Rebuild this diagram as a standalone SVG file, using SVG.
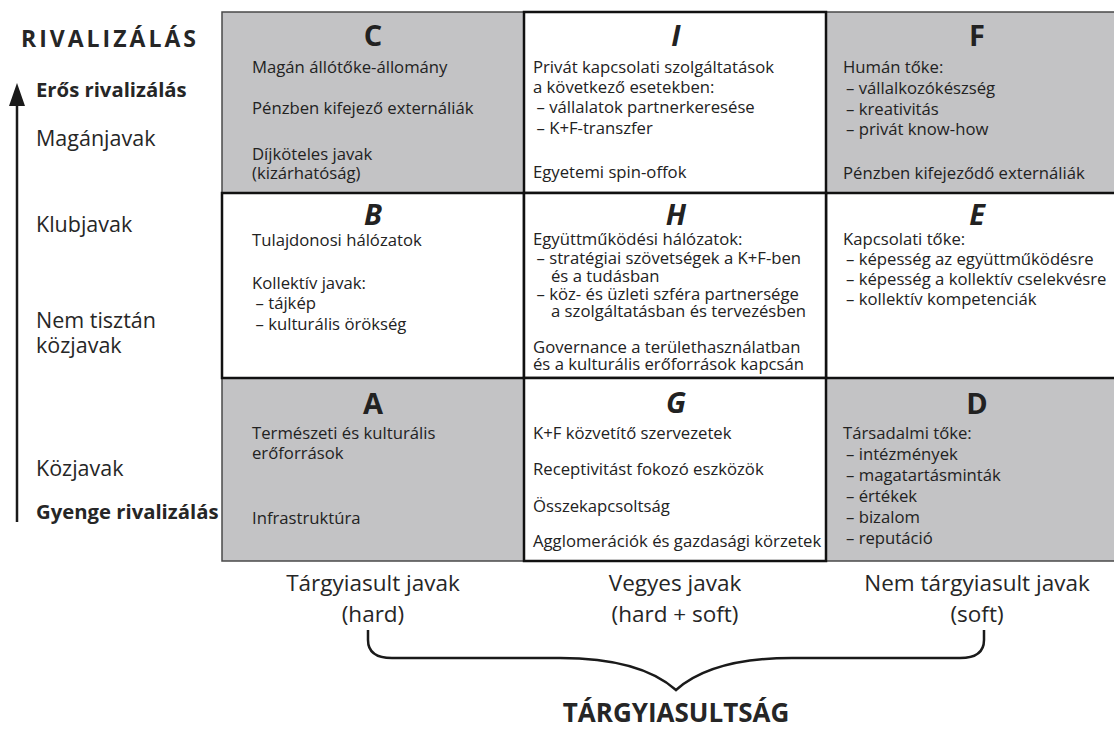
<svg xmlns="http://www.w3.org/2000/svg" width="1114" height="729" viewBox="0 0 1114 729">
  <defs>
    <style>
      .t { font-family: "Open Sans", "Liberation Sans", sans-serif; font-size: 16.7px; fill: #222; }
      .axis { font-family: "Open Sans", "Liberation Sans", sans-serif; font-size: 21.5px; fill: #262626; }
      .axisb { font-family: "Open Sans", "Liberation Sans", sans-serif; font-size: 20.3px; font-weight: 700; fill: #262626; }
      .head { font-family: "Open Sans", "Liberation Sans", sans-serif; font-size: 23px; font-weight: 700; letter-spacing: 3px; fill: #262626; }
      .bot { font-family: "Open Sans", "Liberation Sans", sans-serif; font-size: 22.5px; fill: #262626; text-anchor: middle; }
      .botb { font-family: "Open Sans", "Liberation Sans", sans-serif; font-size: 26px; font-weight: 700; fill: #262626; text-anchor: middle; }
      .L { font-family: "Open Sans", "Liberation Sans", sans-serif; font-size: 29px; font-weight: 700; fill: #222; text-anchor: middle; }
      .Li { font-style: italic; }
      .gray { fill: #c3c3c5; stroke: #4a4a4a; stroke-width: 1.5; }
      .white { fill: #ffffff; stroke: #111111; stroke-width: 2.5; }
      .line { fill: none; stroke: #1a1a1a; stroke-width: 2.5; }
    </style>
  </defs>

  <rect width="1114" height="729" fill="#ffffff"/>

  <!-- rivalry axis labels -->
  <g id="axis-rivalry">
    <text class="head" x="21" y="47">RIVALIZÁLÁS</text>
    <text class="axisb" x="36" y="97">Erős rivalizálás</text>
    <text class="axis" x="36" y="146">Magánjavak</text>
    <text class="axis" x="36" y="232">Klubjavak</text>
    <text class="axis" x="36" y="328">Nem tisztán</text>
    <text class="axis" x="36" y="353">közjavak</text>
    <text class="axis" x="36" y="476">Közjavak</text>
    <text class="axisb" x="36" y="519">Gyenge rivalizálás</text>
  </g>

  <!-- gray cells -->
  <g id="cell-C">
    <rect class="gray" x="222" y="12" width="302" height="181"/>
    <text class="L" x="373" y="46">C</text>
    <text class="t" x="252" y="73">Magán állótőke-állomány</text>
    <text class="t" x="252" y="114">Pénzben kifejező externáliák</text>
    <text class="t" x="252" y="160">Díjköteles javak</text>
    <text class="t" x="252" y="179">(kizárhatóság)</text>
  </g>
  <g id="cell-F">
    <rect class="gray" x="826" y="12" width="302" height="181"/>
    <text class="L" x="977" y="46">F</text>
    <text class="t" x="843" y="73">Humán tőke:</text>
    <text class="t" x="846" y="94">– vállalkozókészség</text>
    <text class="t" x="846" y="115">– kreativitás</text>
    <text class="t" x="846" y="135">– privát know-how</text>
    <text class="t" x="843" y="179">Pénzben kifejeződő externáliák</text>
  </g>
  <g id="cell-A">
    <rect class="gray" x="222" y="378" width="302" height="183"/>
    <text class="L" x="373" y="414">A</text>
    <text class="t" x="252" y="439">Természeti és kulturális</text>
    <text class="t" x="252" y="459">erőforrások</text>
    <text class="t" x="252" y="524">Infrastruktúra</text>
  </g>
  <g id="cell-D">
    <rect class="gray" x="826" y="378" width="302" height="183"/>
    <text class="L" x="977" y="414">D</text>
    <text class="t" x="843" y="439">Társadalmi tőke:</text>
    <text class="t" x="846" y="460">– intézmények</text>
    <text class="t" x="846" y="481">– magatartásminták</text>
    <text class="t" x="846" y="502">– értékek</text>
    <text class="t" x="846" y="523">– bizalom</text>
    <text class="t" x="846" y="544">– reputáció</text>
  </g>

  <!-- white cells -->
  <g id="cell-B">
    <rect class="white" x="222" y="193" width="302" height="185"/>
    <text class="L Li" x="373" y="225">B</text>
    <text class="t" x="252" y="246">Tulajdonosi hálózatok</text>
    <text class="t" x="252" y="289">Kollektív javak:</text>
    <text class="t" x="255.5" y="309">– tájkép</text>
    <text class="t" x="255.5" y="330">– kulturális örökség</text>
  </g>
  <g id="cell-E">
    <rect class="white" x="826" y="193" width="302" height="185"/>
    <text class="L Li" x="977" y="225">E</text>
    <text class="t" x="843" y="245">Kapcsolati tőke:</text>
    <text class="t" x="846" y="265">– képesség az együttműködésre</text>
    <text class="t" x="846" y="285">– képesség a kollektív cselekvésre</text>
    <text class="t" x="846" y="305">– kollektív kompetenciák</text>
  </g>
  <g id="cell-I">
    <rect class="white" x="524" y="12" width="302" height="181"/>
    <text class="L Li" x="676" y="46">I</text>
    <text class="t" x="533" y="73">Privát kapcsolati szolgáltatások</text>
    <text class="t" x="533" y="93">a következő esetekben:</text>
    <text class="t" x="536.5" y="113">– vállalatok partnerkeresése</text>
    <text class="t" x="536.5" y="134">– K+F-transzfer</text>
    <text class="t" x="533" y="178">Egyetemi spin-offok</text>
  </g>
  <g id="cell-H">
    <rect class="white" x="524" y="193" width="302" height="185"/>
    <text class="L Li" x="676" y="225">H</text>
    <text class="t" x="533" y="245">Együttműködési hálózatok:</text>
    <text class="t" x="536.5" y="264">– stratégiai szövetségek a K+F-ben</text>
    <text class="t" x="551" y="282">és a tudásban</text>
    <text class="t" x="536.5" y="300">– köz- és üzleti szféra partnersége</text>
    <text class="t" x="551" y="317">a szolgáltatásban és tervezésben</text>
    <text class="t" x="533" y="353">Governance a területhasználatban</text>
    <text class="t" x="533" y="370">és a kulturális erőforrások kapcsán</text>
  </g>
  <g id="cell-G">
    <rect class="white" x="524" y="378" width="302" height="183"/>
    <text class="L Li" x="676" y="413">G</text>
    <text class="t" x="533" y="439">K+F közvetítő szervezetek</text>
    <text class="t" x="533" y="475">Receptivitást fokozó eszközök</text>
    <text class="t" x="533" y="512">Összekapcsoltság</text>
    <text class="t" x="533" y="547">Agglomerációk és gazdasági körzetek</text>
  </g>

  <!-- tangibility axis labels -->
  <g id="axis-tangibility">
    <text class="bot" x="373" y="591">Tárgyiasult javak</text>
    <text class="bot" x="373" y="622">(hard)</text>
    <text class="bot" x="675" y="591">Vegyes javak</text>
    <text class="bot" x="675" y="622">(hard + soft)</text>
    <text class="bot" x="977" y="591">Nem tárgyiasult javak</text>
    <text class="bot" x="977" y="622">(soft)</text>
    <text class="botb" x="676" y="722">TÁRGYIASULTSÁG</text>
  </g>

  <!-- arrow and brace -->
  <g id="connectors">
    <line class="line" x1="17" y1="522" x2="17" y2="103"/>
    <polygon points="17,83 9,106 25,106" fill="#1a1a1a"/>
    <path class="line" d="M368 630 L368 640 Q368 658 392 658 L560 658 Q640 658 676 690 Q712 658 792 658 L960 658 Q984 658 984 640 L984 630"/>
  </g>
</svg>
